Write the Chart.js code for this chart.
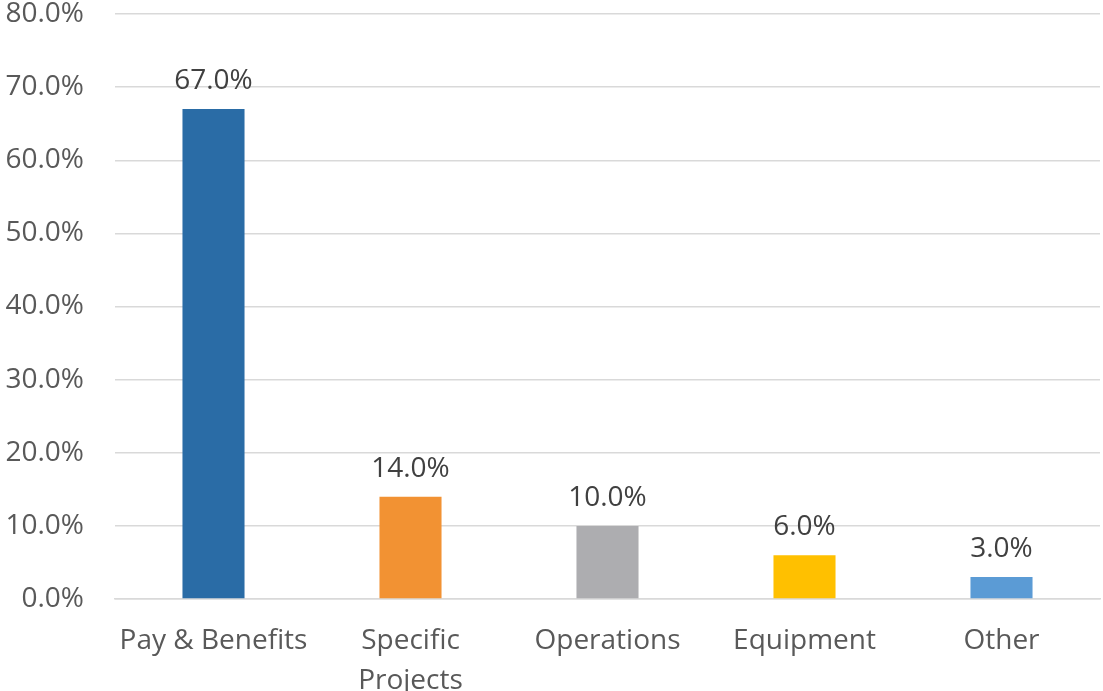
<!DOCTYPE html>
<html lang="en">

<head>
    <meta charset="UTF-8">
    <title>Budget breakdown</title>
    <script src="https://cdn.jsdelivr.net/npm/chart.js"></script>
    <style>
        html, body { margin: 0; padding: 0; background: #ffffff; overflow: hidden; }
        canvas { display: block; }
    </style>
</head>

<body>
    <canvas id="grafico" width="1103" height="691"></canvas>
</body>

</html>
<script>
    var categorias = [['Pay & Benefits'], ['Specific', 'Projects'], ['Operations'], ['Equipment'], ['Other']];
    var valores = [67.0, 14.0, 10.0, 6.0, 3.0];
    var cores = ['#2a6ca6', '#f29233', '#adadb0', '#ffc000', '#5b9bd5'];

    var fonte = "'Open Sans', 'Noto Sans', sans-serif";

    // rotulos em cima das barras
    var rotulos = {
        id: 'rotulos',
        afterDatasetsDraw(chart) {
            var ctx = chart.ctx;
            var meta = chart.getDatasetMeta(0);
            ctx.save();
            ctx.font = '28px ' + fonte;
            ctx.fillStyle = '#404040';
            ctx.textAlign = 'center';
            ctx.textBaseline = 'alphabetic';
            meta.data.forEach((barra, i) => {
                ctx.fillText(valores[i].toFixed(1) + '%', barra.x, barra.y - 20);
            });
            ctx.restore();
        }
    };

    var grafico = new Chart(document.getElementById('grafico').getContext('2d'), {
        type: 'bar',
        data: {
            labels: categorias,
            datasets: [{
                data: valores,
                backgroundColor: cores,
                categoryPercentage: 1,
                barPercentage: 0.315
            }]
        },
        options: {
            responsive: false,
            animation: false,
            devicePixelRatio: 1,
            layout: { padding: { top: 0, right: 3, left: 0, bottom: 0 } },
            plugins: {
                legend: { display: false },
                tooltip: { enabled: false }
            },
            scales: {
                x: {
                    grid: { display: false },
                    border: { color: '#d9d9d9', width: 1.5 },
                    ticks: {
                        color: '#595959',
                        padding: 14,
                        maxRotation: 0,
                        autoSkip: false,
                        font: { family: fonte, size: 28, lineHeight: 1.42 }
                    },
                    afterFit: function (escala) {
                        escala.height = 92;
                        escala.paddingLeft = 0;
                        escala.paddingRight = 0;
                    }
                },
                y: {
                    min: 0,
                    max: 80,
                    border: { display: false },
                    grid: { color: '#d9d9d9', lineWidth: 1.5, drawTicks: false },
                    ticks: {
                        stepSize: 10,
                        color: '#595959',
                        padding: 31,
                        font: { family: fonte, size: 28, lineHeight: 1 },
                        callback: function (v) { return v.toFixed(1) + '%'; }
                    },
                    afterFit: function (escala) {
                        escala.width = 115;
                        escala.paddingTop = 14;
                        escala.paddingBottom = 0;
                    }
                }
            }
        },
        plugins: [rotulos]
    });
</script>
